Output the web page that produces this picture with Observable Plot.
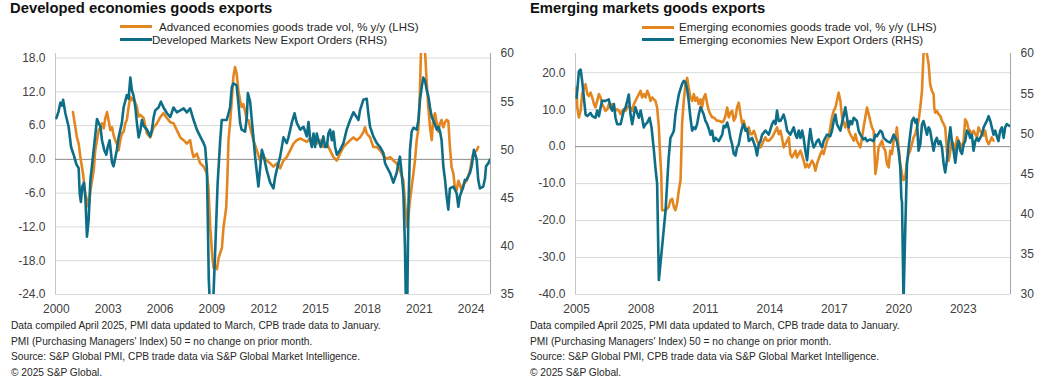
<!DOCTYPE html>
<html><head><meta charset="utf-8">
<script src="https://cdn.jsdelivr.net/npm/d3@7"></script>
<script src="https://cdn.jsdelivr.net/npm/@observablehq/plot@0.6"></script>
<style>
body{margin:0;background:#fff;font-family:"Liberation Sans",Arial,sans-serif;}
#page{position:relative;width:1052px;height:388px;overflow:hidden;background:#fff}
.title{position:absolute;top:1px;font-weight:bold;font-size:14.8px;line-height:15px;color:#111;white-space:nowrap}
.leg{position:absolute;font-size:11.5px;line-height:12px;color:#262626;white-space:nowrap}
.sw{position:absolute;height:3px;width:32px}
.note{position:absolute;font-size:10.2px;line-height:15.6px;color:#262626;white-space:nowrap}
.chart{position:absolute;top:45px}
</style></head><body><div id="page"></div>
<script>
// ---------- texts ----------
const titles = ["Developed economies goods exports", "Emerging markets goods exports"];
const devLegend = ["Advanced economies goods trade vol, % y/y (LHS)", "Developed Markets New Export Orders (RHS)"];
const emLegend = ["Emerging economies goods trade vol, % y/y (LHS)", "Emerging economies New Export Orders (RHS)"];
const notes = [
  "Data compiled April 2025, PMI data updated to March, CPB trade data to January.",
  "PMI (Purchasing Managers' Index) 50 = no change on prior month.",
  "Source: S&P Global PMI, CPB trade data via S&P Global Market Intelligence.",
  "\u00a9 2025 S&P Global."
];
const ORANGE = "#e3861f", TEAL = "#0e6e87";

// ---------- tick values ----------
const devYears = [2000, 2003, 2006, 2009, 2012, 2015, 2018, 2021, 2024];
const emYears = [2005, 2008, 2011, 2014, 2017, 2020, 2023];
const devLeftTicks = [-24, -18, -12, -6, 0, 6, 12, 18];
const devRightTicks = [35, 40, 45, 50, 55, 60];
const emLeftTicks = [-40, -30, -20, -10, 0, 10, 20];
const emRightTicks = [30, 35, 40, 45, 50, 55, 60];

// ---------- Developed: trade volume % y/y (LHS) ----------
const devTradeT = [
2000.96,2001.10,2001.19,2001.29,2001.39,2001.54,2001.67,2001.87,2001.97,2002.06,
2002.16,2002.25,2002.35,2002.45,2002.55,2002.64,2002.74,2002.83,2002.93,2003.03,
2003.12,2003.22,2003.31,2003.41,2003.50,2003.60,2003.70,2003.79,2003.89,2003.99,
2004.08,2004.18,2004.28,2004.37,2004.47,2004.57,2004.66,2004.76,2004.86,2005.05,
2005.24,2005.43,2005.63,2005.82,2006.01,2006.20,2006.40,2006.59,2006.78,2006.97,
2007.17,2007.36,2007.55,2007.74,2007.84,2007.94,2008.13,2008.32,2008.52,2008.71,
2008.80,2008.90,2009.03,2009.10,2009.20,2009.29,2009.39,2009.58,2009.67,2009.83,
2009.90,2009.96,2010.05,2010.15,2010.24,2010.34,2010.43,2010.53,2010.63,2010.72,
2010.82,2010.92,2011.02,2011.11,2011.21,2011.40,2011.60,2011.79,2011.98,2012.17,
2012.37,2012.56,2012.75,2012.95,2013.14,2013.33,2013.53,2013.72,2013.91,2014.11,
2014.30,2014.49,2014.69,2014.88,2015.07,2015.26,2015.45,2015.65,2015.84,2016.03,
2016.23,2016.42,2016.61,2016.80,2017.00,2017.19,2017.38,2017.57,2017.76,2017.86,
2017.96,2018.15,2018.34,2018.54,2018.73,2018.92,2019.11,2019.31,2019.50,2019.69,
2019.88,2020.08,2020.18,2020.30,2020.46,2020.66,2020.75,2020.85,2020.95,2021.04,
2021.10,2021.20,2021.30,2021.43,2021.52,2021.62,2021.72,2021.81,2021.91,2022.01,
2022.10,2022.20,2022.29,2022.39,2022.49,2022.58,2022.68,2022.77,2022.87,2022.97,
2023.06,2023.16,2023.26,2023.35,2023.45,2023.55,2023.74,2023.93,2024.03,2024.12,
2024.32,2024.41];
const devTradeV = [
8.4,5.7,3.9,2.8,0.4,-2.5,-6.0,-8.5,-5.5,-3.8,
-2.0,1.6,3.4,5.2,5.7,6.4,5.5,7.3,8.4,6.8,
5.2,5.7,4.3,3.4,2.8,1.6,3.4,4.6,4.9,6.4,
7.0,9.3,11.1,10.5,10.9,10.0,9.3,7.6,7.9,7.3,
4.6,3.9,5.7,6.4,7.5,8.2,7.3,6.6,6.4,5.2,
3.9,3.4,2.8,3.4,1.6,0.4,1.0,-0.7,-1.3,-2.5,
-5.0,-12.0,-17.5,-19.3,-18.9,-19.5,-17.5,-15.7,-12.1,-8.5,
-3.0,3.4,6.4,10.5,14.6,16.4,15.3,12.3,10.5,9.3,
9.8,8.6,7.0,7.0,5.7,3.4,1.6,-0.2,0.6,-0.2,
-0.7,-1.3,-0.7,-1.6,-0.2,0.4,1.6,2.8,3.4,3.7,
3.4,3.1,3.75,3.4,2.8,3.4,2.2,2.8,1.6,0.4,
-0.2,1.0,2.2,2.8,3.4,3.9,3.4,3.9,4.8,5.7,
4.6,3.9,2.2,2.2,1.6,0.7,0.1,0.4,-0.2,-0.7,
-2.0,-3.8,-8.0,-12.0,-7.3,-2.5,-0.2,3.4,5.5,12.3,
19.5,23.0,21.0,13.6,9.3,5.7,3.4,7.5,8.2,6.4,
4.9,6.4,7.0,5.7,6.6,7.0,6.8,2.2,-1.4,-2.5,
-5.0,-5.5,-3.8,-4.5,-5.5,-4.5,-3.8,-2.0,-0.2,1.0,
1.6,2.2];

// ---------- Developed: New Export Orders PMI (RHS) ----------
const devPmiT = [
2000.00,2000.13,2000.23,2000.33,2000.39,2000.52,2000.71,2000.85,2001.00,2001.16,
2001.29,2001.35,2001.42,2001.50,2001.60,2001.68,2001.77,2001.87,2001.97,2002.16,
2002.35,2002.55,2002.64,2002.77,2002.89,2002.97,2003.08,2003.22,2003.31,2003.50,
2003.60,2003.79,2003.89,2004.08,2004.18,2004.28,2004.37,2004.47,2004.57,2004.66,
2004.76,2004.86,2004.95,2005.05,2005.24,2005.43,2005.53,2005.63,2005.72,2005.91,
2006.05,2006.20,2006.40,2006.59,2006.78,2006.97,2007.17,2007.36,2007.55,2007.74,
2007.94,2008.13,2008.32,2008.52,2008.61,2008.71,2008.76,2008.82,2008.90,2009.00,
2009.08,2009.20,2009.33,2009.48,2009.57,2009.86,2010.05,2010.15,2010.24,2010.43,
2010.53,2010.63,2010.72,2010.92,2011.02,2011.08,2011.21,2011.40,2011.50,2011.69,
2011.89,2011.98,2012.17,2012.37,2012.56,2012.66,2012.75,2012.95,2013.14,2013.33,
2013.43,2013.62,2013.78,2013.91,2014.11,2014.30,2014.49,2014.59,2014.69,2014.78,
2014.88,2014.97,2015.07,2015.16,2015.30,2015.45,2015.55,2015.65,2015.74,2015.84,
2015.94,2016.03,2016.13,2016.23,2016.42,2016.61,2016.80,2017.00,2017.19,2017.34,
2017.48,2017.57,2017.76,2017.96,2018.05,2018.15,2018.34,2018.54,2018.73,2018.92,
2019.02,2019.11,2019.31,2019.50,2019.69,2019.79,2019.88,2019.98,2020.08,2020.17,
2020.27,2020.37,2020.46,2020.56,2020.66,2020.85,2020.95,2021.04,2021.14,2021.23,
2021.33,2021.43,2021.52,2021.62,2021.72,2021.81,2022.01,2022.10,2022.20,2022.29,
2022.39,2022.49,2022.58,2022.68,2022.77,2022.97,2023.16,2023.26,2023.35,2023.55,
2023.64,2023.74,2023.93,2024.03,2024.16,2024.32,2024.41,2024.51,2024.70,2024.80,
2024.86,2024.99,2025.09];
const devPmiV = [
53.3,54.0,54.9,54.6,55.2,53.8,52.4,50.3,49.5,48.5,
48.1,45.5,44.6,46.2,46.6,45.0,41.0,42.8,46.9,50.0,
53.2,52.4,51.0,50.0,49.5,50.3,51.0,48.7,48.3,50.0,
51.3,52.8,54.4,55.7,55.3,57.5,56.2,55.6,54.4,52.8,
51.3,52.0,53.1,52.5,52.1,51.4,52.1,53.4,54.1,54.4,
55.0,54.4,53.8,53.4,54.4,53.9,54.1,54.3,53.9,54.3,
53.1,52.1,51.4,50.7,50.3,48.0,43.0,36.5,33.5,33.0,
34.5,40.0,46.5,51.0,53.1,53.1,54.4,56.5,56.9,56.7,
54.9,52.8,52.1,51.9,53.4,55.9,55.0,51.3,49.3,46.2,
50.0,49.5,47.9,46.6,46.0,47.2,47.9,49.3,51.3,50.7,
51.3,52.8,53.8,52.8,52.1,52.4,51.4,52.9,51.0,50.3,
51.7,50.3,51.7,51.0,50.3,51.4,50.3,50.3,51.7,52.1,
51.0,51.9,50.3,49.5,50.0,50.7,52.1,53.1,53.9,53.5,
53.1,54.1,55.2,55.3,53.8,52.4,51.4,50.7,50.3,49.7,
48.6,48.3,47.6,46.6,47.6,48.6,49.3,47.6,45.5,40.0,
29.0,44.0,50.0,51.9,52.3,52.1,53.1,55.2,56.5,57.5,
57.2,56.2,55.6,54.4,53.4,53.1,52.1,52.4,51.9,51.0,
48.3,46.9,45.2,43.8,46.0,46.2,45.5,44.1,45.2,46.2,
46.9,46.9,47.6,48.3,50.0,49.0,46.9,46.0,46.2,47.0,
48.3,48.6,49.0];

// ---------- Emerging: trade volume % y/y (LHS) ----------
const emTradeT = [
2005.00,2005.03,2005.11,2005.19,2005.26,2005.34,2005.42,2005.50,2005.57,2005.65,
2005.73,2005.81,2005.88,2005.96,2006.04,2006.12,2006.19,2006.27,2006.35,2006.43,
2006.50,2006.58,2006.66,2006.74,2006.81,2006.89,2006.97,2007.05,2007.12,2007.20,
2007.28,2007.36,2007.43,2007.51,2007.59,2007.67,2007.74,2007.82,2007.90,2007.98,
2008.05,2008.13,2008.21,2008.29,2008.36,2008.44,2008.52,2008.60,2008.67,2008.75,
2008.83,2008.87,2008.94,2008.98,2009.14,2009.29,2009.37,2009.45,2009.53,2009.60,
2009.68,2009.76,2009.84,2009.88,2009.91,2009.99,2010.07,2010.15,2010.22,2010.30,
2010.38,2010.46,2010.53,2010.61,2010.69,2010.77,2010.84,2010.92,2011.00,2011.08,
2011.16,2011.23,2011.31,2011.39,2011.47,2011.54,2011.62,2011.78,2011.85,2011.93,
2012.01,2012.09,2012.16,2012.24,2012.32,2012.40,2012.47,2012.55,2012.63,2012.71,
2012.78,2012.86,2012.94,2013.02,2013.09,2013.17,2013.25,2013.33,2013.40,2013.48,
2013.56,2013.64,2013.71,2013.79,2013.87,2013.95,2014.10,2014.18,2014.26,2014.33,
2014.41,2014.49,2014.56,2014.64,2014.80,2014.88,2014.95,2015.03,2015.11,2015.19,
2015.26,2015.34,2015.42,2015.50,2015.57,2015.65,2015.73,2015.81,2015.88,2015.96,
2016.04,2016.12,2016.19,2016.27,2016.35,2016.43,2016.50,2016.58,2016.66,2016.74,
2016.81,2016.89,2016.97,2017.05,2017.12,2017.20,2017.28,2017.36,2017.43,2017.51,
2017.59,2017.67,2017.74,2017.82,2017.90,2017.98,2018.05,2018.13,2018.21,2018.29,
2018.36,2018.44,2018.52,2018.60,2018.67,2018.75,2018.83,2018.91,2018.98,2019.06,
2019.14,2019.22,2019.29,2019.37,2019.45,2019.53,2019.60,2019.68,2019.76,2019.84,
2019.91,2019.99,2020.07,2020.15,2020.22,2020.30,2020.38,2020.46,2020.53,2020.61,
2020.69,2020.77,2020.84,2020.92,2021.00,2021.08,2021.15,2021.23,2021.31,2021.39,
2021.46,2021.54,2021.62,2021.65,2021.70,2021.77,2021.85,2021.93,2022.01,2022.09,
2022.16,2022.24,2022.32,2022.40,2022.47,2022.55,2022.63,2022.71,2022.78,2022.86,
2022.94,2023.02,2023.09,2023.17,2023.25,2023.32,2023.40,2023.48,2023.64,2023.71,
2023.79,2023.87,2023.95,2024.02,2024.10,2024.18,2024.26,2024.33,2024.41];
const emTradeV = [
15.9,10.6,7.9,9.7,14.2,15.9,16.9,14.2,13.7,14.6,
13.3,11.5,10.6,12.4,14.2,13.3,11.5,10.6,9.7,10.1,
11.5,10.6,11.5,10.6,9.7,10.1,9.7,8.8,9.7,10.1,
9.7,10.6,11.0,10.6,9.7,11.5,12.4,13.3,14.2,15.1,
13.3,14.2,13.3,15.1,14.2,12.4,13.3,12.8,12.4,10.6,
5.2,-0.2,-7.4,-17.2,-17.2,-16.3,-14.5,-14.1,-16.3,-17.2,
-15.4,-11.8,-9.1,-1.1,6.1,12.4,16.9,18.6,15.9,13.3,
12.4,14.2,12.4,13.3,11.5,12.8,10.6,13.3,14.2,11.5,
9.7,8.8,7.9,7.9,7.4,7.0,7.0,6.6,7.0,8.3,
10.6,7.9,9.2,9.7,7.0,7.9,10.6,11.9,8.8,6.1,
7.0,5.2,4.3,5.2,3.4,3.4,4.3,3.0,1.6,0.7,
-0.2,0.7,1.6,2.5,1.6,1.6,2.5,3.4,4.3,5.2,
3.4,4.3,2.5,-0.2,1.6,2.5,-2.0,-2.9,-2.0,-1.1,
-2.9,-2.0,-1.1,-2.4,-3.8,-5.6,-4.7,-5.6,-4.7,-3.8,
-4.7,-6.5,-4.7,-3.3,-2.0,-1.1,-2.0,-0.2,1.6,2.5,
5.2,7.9,9.7,10.6,12.4,14.6,12.4,7.9,6.6,5.2,
7.0,4.3,3.4,2.5,1.6,3.4,1.6,0.7,-0.2,2.5,
5.2,7.9,10.6,8.8,7.0,5.2,4.3,-7.4,-4.7,-0.2,
0.7,1.6,-0.2,-1.1,-4.7,-5.6,-1.1,-2.0,1.6,2.5,
5.2,-0.2,-4.7,-7.4,-9.1,-8.3,-3.8,-2.0,-1.1,0.7,
2.5,3.4,5.2,7.0,10.6,15.1,25.1,27.0,25.1,22.2,
16.9,15.1,14.2,10.6,9.2,9.7,8.8,8.3,7.0,6.1,
5.2,-1.1,-3.8,-1.1,1.6,0.7,-1.1,2.5,1.6,0.7,
-0.2,1.6,7.4,6.6,4.7,4.3,3.4,4.3,2.5,5.2,
4.3,3.4,3.0,4.3,1.6,0.7,1.6,2.5,1.6];

// ---------- Emerging: New Export Orders PMI (RHS) ----------
const emPmiT = [
2005.00,2005.03,2005.11,2005.19,2005.26,2005.34,2005.42,2005.50,2005.65,2005.73,
2005.88,2005.96,2006.04,2006.12,2006.19,2006.35,2006.50,2006.58,2006.66,2006.74,
2006.81,2006.89,2007.05,2007.12,2007.20,2007.28,2007.36,2007.43,2007.51,2007.59,
2007.67,2007.74,2007.82,2007.90,2007.98,2008.05,2008.13,2008.21,2008.29,2008.40,
2008.49,2008.60,2008.67,2008.75,2008.83,2008.98,2009.14,2009.22,2009.29,2009.37,
2009.45,2009.53,2009.60,2009.68,2009.76,2009.91,2009.99,2010.07,2010.15,2010.22,
2010.30,2010.38,2010.46,2010.53,2010.61,2010.69,2010.77,2010.84,2010.92,2011.00,
2011.08,2011.16,2011.23,2011.31,2011.39,2011.47,2011.62,2011.78,2011.85,2011.93,
2012.01,2012.09,2012.16,2012.24,2012.32,2012.40,2012.47,2012.55,2012.63,2012.71,
2012.78,2012.86,2012.94,2013.02,2013.17,2013.33,2013.40,2013.48,2013.56,2013.64,
2013.79,2013.95,2014.10,2014.18,2014.26,2014.33,2014.41,2014.49,2014.64,2014.72,
2014.80,2014.95,2015.11,2015.19,2015.26,2015.34,2015.42,2015.50,2015.57,2015.65,
2015.73,2015.81,2015.88,2015.96,2016.04,2016.12,2016.19,2016.27,2016.35,2016.43,
2016.50,2016.58,2016.66,2016.81,2016.89,2016.97,2017.05,2017.12,2017.20,2017.28,
2017.36,2017.43,2017.51,2017.59,2017.67,2017.74,2017.82,2017.90,2018.05,2018.13,
2018.21,2018.36,2018.44,2018.52,2018.67,2018.83,2018.91,2018.98,2019.14,2019.22,
2019.29,2019.45,2019.60,2019.68,2019.76,2019.84,2019.91,2019.99,2020.07,2020.12,
2020.15,2020.22,2020.30,2020.38,2020.46,2020.53,2020.61,2020.69,2020.77,2020.84,
2020.92,2021.00,2021.08,2021.15,2021.23,2021.31,2021.39,2021.46,2021.54,2021.62,
2021.70,2021.77,2021.85,2021.93,2022.01,2022.09,2022.16,2022.24,2022.32,2022.40,
2022.47,2022.55,2022.63,2022.71,2022.78,2022.86,2022.94,2023.02,2023.09,2023.17,
2023.25,2023.32,2023.40,2023.48,2023.56,2023.64,2023.71,2023.79,2023.87,2023.95,
2024.02,2024.10,2024.18,2024.26,2024.33,2024.41,2024.49,2024.56,2024.64,2024.72,
2024.80,2024.88,2024.95,2025.03,2025.15];
const emPmiV = [
54.5,55.3,57.8,58.0,56.6,54.5,52.4,52.2,52.6,52.2,
52.0,52.9,52.2,53.3,54.1,54.1,54.3,53.3,52.9,53.7,
52.0,51.2,51.2,52.0,52.9,53.3,54.1,54.9,52.4,51.2,
52.4,53.3,52.6,52.0,52.9,52.0,50.8,51.2,51.4,52.0,
50.8,47.9,45.8,43.8,31.8,35.9,40.4,44.0,47.1,49.5,
49.9,50.4,52.4,53.7,54.9,56.2,56.6,56.4,55.5,54.1,
52.0,50.4,50.8,50.6,51.2,52.4,53.3,52.9,52.4,51.6,
51.2,50.6,49.9,50.4,49.1,49.5,49.1,49.9,51.0,50.8,
51.4,50.6,49.5,48.7,47.5,47.3,48.3,48.7,49.9,50.8,
51.2,50.4,50.6,49.1,49.5,48.3,47.3,48.7,49.1,49.9,
50.4,49.9,51.2,51.6,51.2,52.9,51.6,51.6,52.4,51.6,
50.4,49.9,50.8,49.9,49.5,50.4,49.5,50.4,49.5,47.9,
46.7,49.1,50.6,49.1,48.3,48.7,49.1,49.3,48.7,48.3,
49.1,49.5,49.9,49.7,50.4,51.6,52.4,51.2,50.8,50.4,
51.4,52.2,53.3,52.0,50.8,51.6,51.2,52.0,51.6,50.4,
49.9,49.3,49.5,49.1,49.3,49.1,49.9,49.7,50.4,50.2,
49.5,49.1,48.9,49.3,49.9,49.5,49.1,47.9,45.8,42.0,
41.5,29.0,38.0,46.2,48.3,49.9,51.6,52.0,51.4,51.8,
47.9,48.7,51.2,51.6,50.8,49.9,50.8,50.4,49.1,47.9,
49.1,49.5,48.7,49.1,48.3,46.2,45.2,46.7,49.1,50.8,
49.1,47.9,46.4,48.3,49.1,47.9,47.5,48.7,49.1,50.4,
50.2,49.5,49.9,47.9,49.1,49.5,49.1,49.5,49.9,50.8,
51.2,51.6,52.2,51.6,50.8,49.9,50.4,49.7,49.1,50.4,
50.8,49.5,50.8,51.2,51.0];

// ---------- build ----------
const page = document.getElementById("page");
function el(cls, css, text) {
  const d = document.createElement("div");
  d.className = cls;
  Object.assign(d.style, css);
  if (text != null) d.textContent = text;
  page.appendChild(d);
  return d;
}
function rows(T, V) {
  const n = Math.min(T.length, V.length);
  return d3.range(n).map(i => ({t: T[i], v: V[i]}));
}

function chart(cfg) {
  const [l0, l1] = cfg.leftDomain, [r0, r1] = cfg.rightDomain;
  const toL = p => l0 + (p - r0) / (r1 - r0) * (l1 - l0);
  const fromL = v => r0 + (v - l0) / (l1 - l0) * (r1 - r0);
  const trade = rows(cfg.tradeT, cfg.tradeV);
  const pmi = rows(cfg.pmiT, cfg.pmiV).map(d => ({t: d.t, v: toL(d.v)}));
  const svg = Plot.plot({
    width: cfg.width, height: 273,
    marginTop: 8, marginBottom: 24, marginLeft: cfg.marginLeft, marginRight: cfg.marginRight,
    style: {fontFamily: '"Liberation Sans", Arial, sans-serif', fontSize: "12px", color: "#404040", background: "transparent"},
    x: {domain: cfg.xDomain},
    y: {domain: cfg.leftDomain},
    marks: [
      Plot.gridY(cfg.leftTicks.filter(d => d !== 0), {stroke: "#d9d9d9", strokeOpacity: 1}),
      Plot.ruleX([cfg.xDomain[0]], {stroke: "#c4c4c4"}),
      Plot.ruleX([cfg.xDomain[1]], {stroke: "#a6a6a6"}),
      Plot.ruleY([0], {stroke: "#8c8c8c"}),
      Plot.line(trade, {x: "t", y: "v", stroke: ORANGE, strokeWidth: 2.6, clip: true}),
      Plot.line(pmi, {x: "t", y: "v", stroke: TEAL, strokeWidth: 2.6, clip: true}),
      Plot.axisY(cfg.leftTicks, {label: null, tickSize: 0, tickPadding: 10, tickFormat: d => d.toFixed(1)}),
      Plot.axisY(cfg.rightTicks.map(toL), {anchor: "right", label: null, tickSize: 0, tickPadding: 10, tickFormat: d => String(Math.round(fromL(d)))}),
      Plot.axisX(cfg.years, {label: null, tickSize: 0, tickPadding: 10, tickFormat: d => String(d)})
    ]
  });
  svg.classList.add("chart");
  svg.style.left = cfg.left + "px";
  page.appendChild(svg);
}

// Left panel
el("title", {left: "10px"}, titles[0]);
el("sw", {left: "120px", top: "25px", background: ORANGE});
el("leg", {left: "159px", top: "21px"}, devLegend[0]);
el("sw", {left: "120px", top: "38px", background: TEAL});
el("leg", {left: "152px", top: "34px"}, devLegend[1]);
chart({left: 0, width: 520, marginLeft: 55, marginRight: 30,
  xDomain: [1999.95, 2025.12], leftDomain: [-24, 18.8], rightDomain: [35, 60],
  leftTicks: devLeftTicks, rightTicks: devRightTicks, years: devYears,
  tradeT: devTradeT, tradeV: devTradeV, pmiT: devPmiT, pmiV: devPmiV});
notes.forEach((n, i) => el("note", {left: "11px", top: (318 + i * 15.6) + "px"}, n));

// Right panel
el("title", {left: "530px"}, titles[1]);
el("sw", {left: "642px", top: "26px", background: ORANGE});
el("leg", {left: "679px", top: "21px"}, emLegend[0]);
el("sw", {left: "642px", top: "38px", background: TEAL});
el("leg", {left: "679px", top: "34px"}, emLegend[1]);
chart({left: 520, width: 532, marginLeft: 55, marginRight: 42,
  xDomain: [2004.95, 2025.2], leftDomain: [-40, 25.2], rightDomain: [30, 60],
  leftTicks: emLeftTicks, rightTicks: emRightTicks, years: emYears,
  tradeT: emTradeT, tradeV: emTradeV, pmiT: emPmiT, pmiV: emPmiV});
notes.forEach((n, i) => el("note", {left: "530px", top: (318 + i * 15.6) + "px"}, n));
</script>
</body></html>
